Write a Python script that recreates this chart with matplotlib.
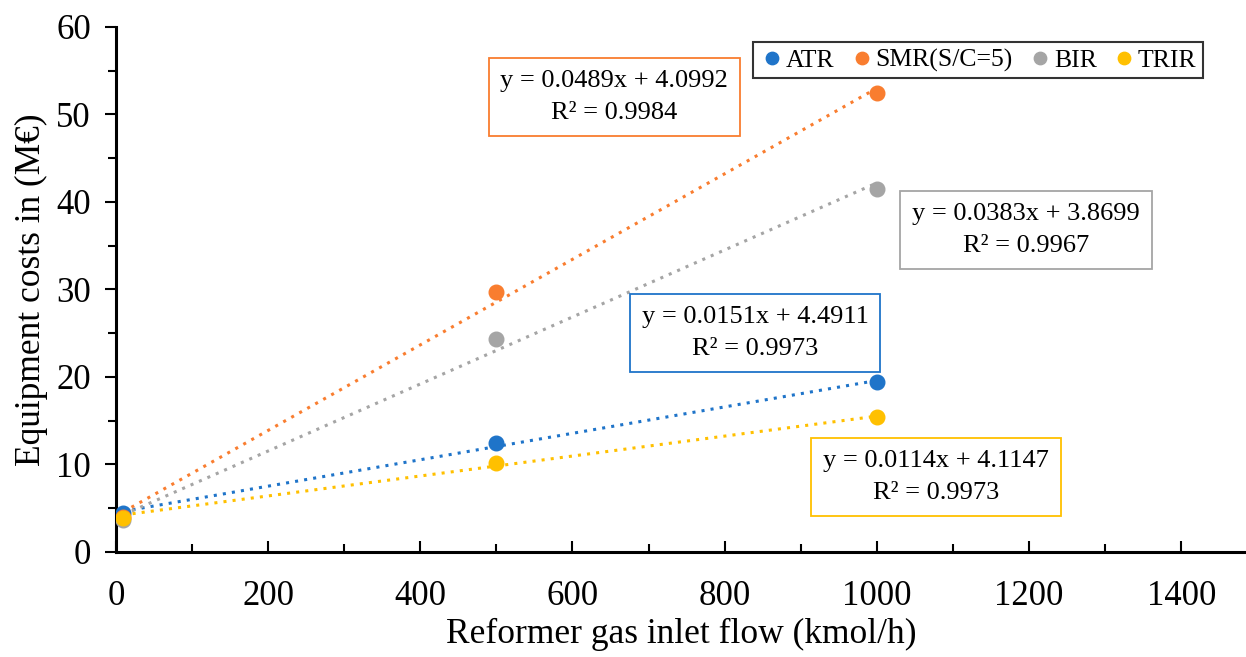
import matplotlib.pyplot as plt
import numpy as np

plt.rcParams['font.family'] = ['Liberation Serif', 'DejaVu Serif']

flow = [10, 500, 1000]
names = ['ATR', 'SMR(S/C=5)', 'BIR', 'TRIR']
costs = {
    'ATR': [4.4, 12.5, 19.4],
    'SMR(S/C=5)': [4.0, 29.7, 52.4],
    'BIR': [3.6, 24.3, 41.5],
    'TRIR': [3.9, 10.2, 15.4],
}
slopes = {'ATR': 0.0151, 'SMR(S/C=5)': 0.0489, 'BIR': 0.0383, 'TRIR': 0.0114}
intercepts = {'ATR': 4.4911, 'SMR(S/C=5)': 4.0992, 'BIR': 3.8699, 'TRIR': 4.1147}
r2 = {'ATR': '0.9973', 'SMR(S/C=5)': '0.9984', 'BIR': '0.9967', 'TRIR': '0.9973'}
colors = {'ATR': '#1f74c9', 'SMR(S/C=5)': '#f97d2f', 'BIR': '#a5a5a5', 'TRIR': '#ffc000'}
# label box centres (data coords)
box_pos = {'ATR': (840, 25.0), 'SMR(S/C=5)': (655, 52.0),
           'BIR': (1196, 36.8), 'TRIR': (1078, 8.6)}

fig = plt.figure(figsize=(12.46, 6.57), dpi=100)
ax = fig.add_axes([0.093, 0.160, 0.907, 0.799])

xs = np.array([flow[0], flow[-1]])
for n in names:
    c = colors[n]
    ax.plot(xs, slopes[n] * xs + intercepts[n], linestyle=(0, (1, 2)),
            color=c, linewidth=2.2, zorder=2)
for n in names:
    ax.plot(flow, costs[n], 'o', color=colors[n], markersize=10.5,
            label=n, zorder=3)

for n in names:
    txt = 'y = %sx + %s\nR² = %s' % (slopes[n], intercepts[n], r2[n])
    ax.text(box_pos[n][0], box_pos[n][1], txt, ha='center', va='center',
            fontsize=19, linespacing=1.6,
            bbox=dict(boxstyle='square,pad=0.45', facecolor='white',
                      edgecolor=colors[n], linewidth=1.3), zorder=4)

ax.set_xlim(0, 1485)
ax.set_ylim(0, 60)
ax.set_xticks(range(0, 1401, 200))
ax.set_xticks(range(100, 1401, 200), minor=True)
ax.set_yticks(range(0, 61, 10))
ax.set_yticks(range(5, 60, 10), minor=True)
ax.tick_params(axis='x', which='both', direction='in', labelsize=25, pad=20)
ax.tick_params(axis='x', which='major', length=8, width=1.5)
ax.tick_params(axis='x', which='minor', length=6, width=1.5)
ax.tick_params(axis='y', which='both', direction='out', labelsize=25, pad=10)
ax.tick_params(axis='y', which='major', length=8, width=1.5)
ax.tick_params(axis='y', which='minor', length=6, width=1.5)
for s in ['top', 'right']:
    ax.spines[s].set_visible(False)
for s in ['left', 'bottom']:
    ax.spines[s].set_linewidth(2.2)

ax.set_xlabel('Reformer gas inlet flow (kmol/h)', fontsize=25.5, labelpad=4)
ax.set_ylabel('Equipment costs in (M€)', fontsize=25.5, labelpad=6)

leg = ax.legend(loc='upper right', bbox_to_anchor=(0.962, 0.971), ncol=4,
                fontsize=18.5, frameon=True, fancybox=False, handletextpad=0.05,
                columnspacing=0.55, borderpad=0.25, handlelength=1.0,
                borderaxespad=0, markerscale=0.85)
leg.get_frame().set_edgecolor('black')
leg.get_frame().set_linewidth(1.5)

fig.savefig('out.png', dpi=100)
